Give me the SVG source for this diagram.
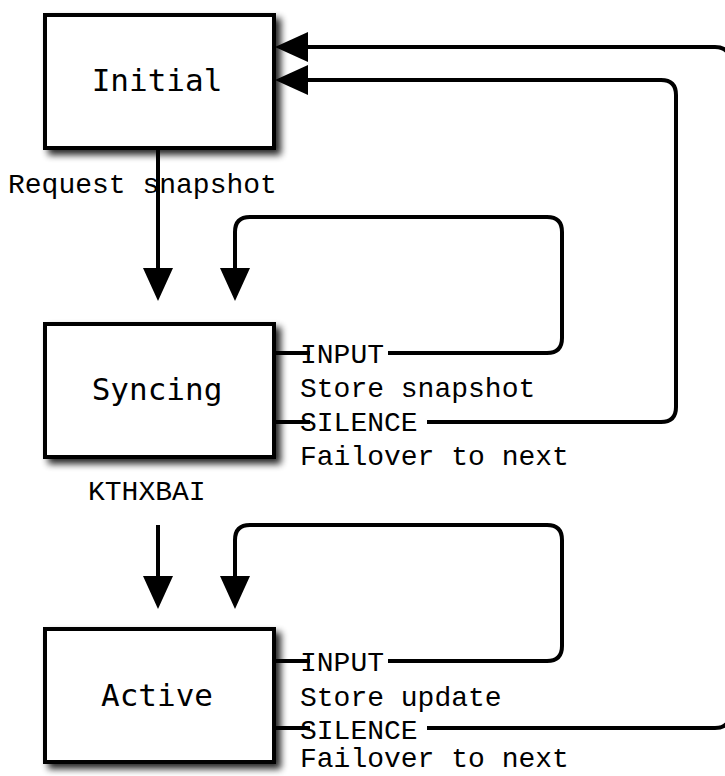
<svg xmlns="http://www.w3.org/2000/svg" width="725" height="776" viewBox="0 0 725 776">
<style>
.box{fill:#fff;stroke:#000;stroke-width:4;filter:url(#sh)}
.nl{font-family:"DejaVu Sans Mono",monospace;font-size:31px;fill:#000;text-anchor:middle}
.el{font-family:"Liberation Mono","Courier New",monospace;font-size:28px;fill:#000}
.ln{fill:none;stroke:#000;stroke-width:4}
.ar{marker-end:url(#ah)}
</style>
<defs>
<filter id="sh" x="-10%" y="-10%" width="130%" height="130%">
<feGaussianBlur in="SourceAlpha" stdDeviation="3.5"/>
<feOffset dx="5" dy="5" result="b"/>
<feComponentTransfer><feFuncA type="linear" slope="0.85"/></feComponentTransfer>
<feMerge><feMergeNode/><feMergeNode in="SourceGraphic"/></feMerge>
</filter>
<marker id="ah" markerUnits="userSpaceOnUse" markerWidth="34" markerHeight="32" viewBox="0 0 34 32" refX="24" refY="16" orient="auto">
<path d="M0,1 L33,16 L0,31 Z" fill="#000"/>
</marker>
</defs>
<g id="initial">
<rect class="box" x="45" y="15" width="229" height="133"/>
<text class="nl" x="157" y="91">Initial</text>
</g>
<g id="syncing">
<rect class="box" x="45" y="324" width="229" height="133"/>
<text class="nl" x="157" y="400">Syncing</text>
</g>
<g id="active">
<rect class="box" x="45" y="629" width="229" height="133"/>
<text class="nl" x="157" y="706">Active</text>
</g>
<g id="connectors">
<path class="ln ar" d="M158,150 V292"/>
<path class="ln" d="M276,353 H310"/>
<path class="ln ar" d="M388,353 H547 Q562,353 562,338 V232 Q562,217 547,217 H250 Q235,217 235,232 V292"/>
<path class="ln" d="M276,422 H310"/>
<path class="ln ar" d="M427,422 H661 Q676,422 676,407 V95 Q676,80 661,80 H284"/>
<path class="ln ar" d="M158,525 V600"/>
<path class="ln" d="M276,661 H310"/>
<path class="ln ar" d="M388,661 H547 Q562,661 562,646 V540 Q562,525 547,525 H250 Q235,525 235,540 V600"/>
<path class="ln" d="M276,728 H310"/>
<path class="ln ar" d="M427,728 H715 Q730,728 730,713 V62 Q730,47 715,47 H284"/>
</g>
<g id="labels">
<text class="el" x="8" y="193">Request snapshot</text>
<text class="el" x="300" y="363">INPUT</text>
<text class="el" x="300" y="397">Store snapshot</text>
<text class="el" x="300" y="431">SILENCE</text>
<text class="el" x="300" y="465">Failover to next</text>
<text class="el" x="88" y="500">KTHXBAI</text>
<text class="el" x="300" y="671">INPUT</text>
<text class="el" x="300" y="706">Store update</text>
<text class="el" x="300" y="739">SILENCE</text>
<text class="el" x="300" y="767">Failover to next</text>
</g>
</svg>
